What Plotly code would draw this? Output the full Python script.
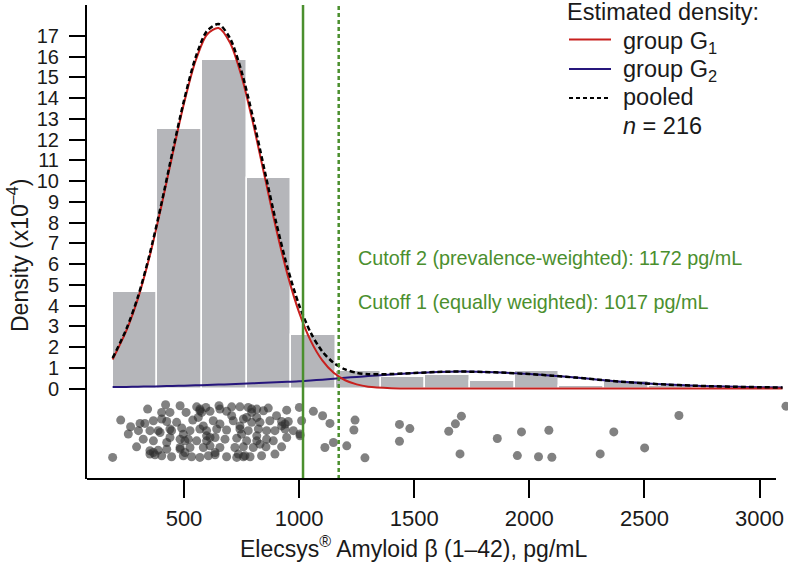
import plotly.graph_objects as go

# ---------------- data ----------------
bin_start = 190
bin_width = 194
hist_density = [4.65, 12.5, 15.84, 10.15, 2.58, 0.84, 0.56, 0.64, 0.35, 0.84,
                0.11, 0.35, 0.12, 0.02, 0.05]

curve_x = [190, 250, 300, 350, 400, 450, 500, 550, 600, 650, 700, 750, 800, 850,
           900, 950, 1000, 1050, 1100, 1150, 1200, 1250, 1300, 1400, 1500, 1600,
           1700, 1800, 1900, 2000, 2100, 2200, 2300, 2400, 2500, 2600, 2700, 2800,
           2900, 3000, 3100]
g1_density = [1.40, 2.80, 4.34, 6.34, 8.71, 11.28, 13.75, 15.79, 17.07, 17.38, 16.67,
              15.05, 12.79, 10.24, 7.72, 5.48, 3.67, 2.31, 1.37, 0.76, 0.40, 0.20, 0.09,
              0.02, 0.0, 0.0, 0.0, 0.0, 0.0, 0.0, 0.0, 0.0, 0.0, 0.0, 0.0, 0.0, 0.0,
              0.0, 0.0, 0.0, 0.0]
g2_density = [0.07, 0.08, 0.09, 0.10, 0.11, 0.125, 0.14, 0.155, 0.17, 0.19, 0.21,
              0.23, 0.25, 0.275, 0.30, 0.325, 0.35, 0.39, 0.43, 0.475, 0.52, 0.56, 0.60,
              0.68, 0.75, 0.80, 0.82, 0.80, 0.76, 0.70, 0.62, 0.53, 0.43, 0.33, 0.25,
              0.19, 0.145, 0.11, 0.085, 0.065, 0.05]
pooled_density = [1.47, 2.88, 4.43, 6.44, 8.82, 11.41, 13.89, 15.95, 17.24, 17.57,
                  16.88, 15.28, 13.04, 10.52, 8.02, 5.81, 4.02, 2.70, 1.80, 1.24, 0.92,
                  0.76, 0.69, 0.70, 0.75, 0.80, 0.82, 0.80, 0.76, 0.70, 0.62, 0.53,
                  0.43, 0.33, 0.25, 0.19, 0.145, 0.11, 0.085, 0.065, 0.05]

cutoffs = [1017, 1172]
cutoff_labels = ["Cutoff 1 (equally weighted): 1017 pg/mL",
                 "Cutoff 2 (prevalence-weighted): 1172 pg/mL"]

strip_x = [420, 483, 555, 595, 652, 707, 743, 779, 816, 866, 946, 1001, 342, 439, 509,
           569, 613, 685, 794, 845, 902, 1062, 1102,
           225, 268, 309, 367, 330, 403, 425, 468, 538, 627, 656, 714, 758, 816, 830,
           873, 924, 953, 1011, 1134, 1243,
           258, 302, 352, 388, 439, 490, 526, 569, 598, 642, 685, 743, 779, 823, 859,
           895, 939, 975, 1004, 1238,
           323, 367, 425, 483, 519, 555, 598, 635, 678, 729, 772, 816, 859, 888, 946, 1004,
           294, 352, 388, 425, 483, 526, 584, 613, 656, 721, 758, 801, 856, 924, 1112,
           1149, 1207,
           190, 374, 403, 446, 497, 533, 569, 606, 635, 685, 729, 758, 787, 837, 895,
           497, 504, 598, 613, 584, 562, 743, 750, 765, 736, 772, 794, 569, 577, 403,
           396, 446, 504, 483, 794, 816, 924, 939, 439, 352, 367, 635, 707, 656, 830,
           1286, 1436, 1481, 1436, 1650, 1679, 1705, 1699, 1861, 1966, 1948, 2040, 2085,
           2098, 2308, 2367, 2501, 2650, 3115]
strip_y = [-0.78, -0.83, -0.88, -0.91, -0.83, -0.88, -0.88, -0.91, -0.99, -0.94, -1.04,
           -0.91, -0.99, -1.15, -1.15, -1.07, -1.10, -1.10, -1.15, -1.07, -1.31, -1.10,
           -1.31,
           -1.52, -1.84, -1.68, -1.55, -1.68, -1.47, -1.59, -1.63, -1.52, -1.55, -1.71,
           -1.55, -1.47, -1.39, -1.63, -1.55, -1.59, -1.59, -1.55, -1.68, -1.52,
           -2.19, -2.03, -2.03, -2.03, -1.95, -1.90, -2.03, -1.95, -2.03, -1.95, -2.00,
           -1.95, -2.03, -1.95, -2.03, -2.03, -1.95, -2.03, -2.19, -2.00,
           -2.44, -2.52, -2.60, -2.44, -2.44, -2.52, -2.52, -2.36, -2.44, -2.39, -2.52,
           -2.52, -2.44, -2.52, -2.36, -2.28,
           -2.81, -3.00, -2.97, -2.92, -2.84, -2.84, -2.84, -2.76, -2.84, -2.84, -2.81,
           -2.84, -2.81, -2.81, -2.84, -2.60, -2.76,
           -3.32, -3.19, -3.24, -3.29, -3.24, -3.29, -3.32, -3.24, -3.19, -3.29, -3.32,
           -3.29, -3.29, -3.24, -3.16,
           -2.20, -2.52, -2.28, -2.36, -1.80, -1.39, -1.80, -2.20, -3.24, -3.16, -1.39,
           -0.99, -0.99, -1.15, -1.15, -2.12, -2.03, -3.08, -2.92, -1.63, -2.28, -1.80,
           -1.71, -2.36, -3.16, -3.08, -3.08, -1.31, -0.99, -2.68,
           -3.34, -1.73, -1.93, -2.54, -2.06, -1.70, -1.33, -3.15, -2.41, -2.09, -3.23,
           -3.29, -2.01, -3.31, -3.15, -2.09, -2.86, -1.30, -0.85]

y_ticks = list(range(0, 18))
x_ticks = [500, 1000, 1500, 2000, 2500, 3000]

# ---------------- style / layout ----------------
W, H = 788, 564
ML, MR, MT, MB = 87, 0, 5, 85
PW, PH = W - ML - MR, H - MT - MB
FONT = "Liberation Sans, Arial, Helvetica, sans-serif"
RED = "#c8201e"
BLUE = "#26167c"
GREEN = "#4b8f2e"
TXT = "#1a1a1a"


def px(xpix):
    return (xpix - ML) / PW


def py(ypix):
    return (H - MB - ypix) / PH


fig = go.Figure()

bar_x = [bin_start + (i + 0.5) * bin_width for i in range(len(hist_density))]
fig.add_trace(go.Bar(x=bar_x, y=hist_density, width=bin_width,
                     marker=dict(color="#b5b6ba", line=dict(color="white", width=1.5)),
                     showlegend=False, hoverinfo="skip"))

fig.add_trace(go.Scatter(x=curve_x, y=g2_density, mode="lines",
                         line=dict(color=BLUE, width=2, shape="spline", smoothing=0.8),
                         showlegend=False))
fig.add_trace(go.Scatter(x=curve_x, y=g1_density, mode="lines",
                         line=dict(color=RED, width=2, shape="spline", smoothing=0.8),
                         showlegend=False))
fig.add_trace(go.Scatter(x=curve_x, y=pooled_density, mode="lines",
                         line=dict(color="black", width=2.5, dash="5px,3px",
                                   shape="spline", smoothing=0.8),
                         showlegend=False))

fig.add_trace(go.Scatter(x=strip_x, y=strip_y, mode="markers",
                         marker=dict(size=9, color="rgba(45,45,45,0.6)", line=dict(width=0)),
                         showlegend=False))

shapes = []
# cutoff lines
shapes.append(dict(type="line", xref="x", yref="paper", x0=cutoffs[0], x1=cutoffs[0],
                   y0=0, y1=1, line=dict(color=GREEN, width=2.5)))
shapes.append(dict(type="line", xref="x", yref="paper", x0=cutoffs[1], x1=cutoffs[1],
                   y0=0, y1=1, line=dict(color=GREEN, width=2.5, dash="4px,3px")))
# x axis line (stops short of the right edge as in the reference)
shapes.append(dict(type="line", xref="paper", yref="paper", x0=0, x1=px(776),
                   y0=0, y1=0, line=dict(color="black", width=2)))
# legend sample lines
shapes.append(dict(type="line", xref="paper", yref="paper", x0=px(569), x1=px(611),
                   y0=py(39.5), y1=py(39.5), line=dict(color=RED, width=2)))
shapes.append(dict(type="line", xref="paper", yref="paper", x0=px(569), x1=px(611),
                   y0=py(69), y1=py(69), line=dict(color=BLUE, width=2)))
shapes.append(dict(type="line", xref="paper", yref="paper", x0=px(569), x1=px(611),
                   y0=py(98), y1=py(98), line=dict(color="black", width=2, dash="4px,3px")))

ann = []


def add_text(text, xpix, ypix, size, color=TXT, xanchor="left", angle=0):
    ann.append(dict(text=text, xref="paper", yref="paper", x=px(xpix), y=py(ypix),
                    xanchor=xanchor, yanchor="middle", showarrow=False, textangle=angle,
                    font=dict(family=FONT, size=size, color=color)))


add_text("Estimated density:", 565, 12, 23.5)
add_text("group G<sub>1</sub>", 621, 42, 23.5)
add_text("group G<sub>2</sub>", 621, 71, 23.5)
add_text("pooled", 621, 97, 23.5)
add_text("<i>n</i> = 216", 621, 126, 23.5)
add_text(cutoff_labels[1], 356, 258, 19.8, color=GREEN)
add_text(cutoff_labels[0], 356, 302, 19.8, color=GREEN)
add_text("Density (x10<sup>–4</sup>)", 18, 256, 23, xanchor="center", angle=-90)
add_text("Elecsys<sup>®</sup> Amyloid β (1–42), pg/mL", 413, 547, 23, xanchor="center")

fig.update_layout(
    width=W, height=H,
    margin=dict(l=ML, r=MR, t=MT, b=MB, pad=0, autoexpand=False),
    paper_bgcolor="white", plot_bgcolor="white",
    bargap=0,
    shapes=shapes, annotations=ann,
    font=dict(family=FONT, color=TXT),
    xaxis=dict(range=[78.6, 78.6 + PW / 0.2302], tickvals=x_ticks,
               ticks="outside", ticklen=18, tickwidth=2, tickcolor="black",
               showline=False, showgrid=False, zeroline=False,
               tickfont=dict(family=FONT, size=22, color=TXT), ticklabelstandoff=2),
    yaxis=dict(range=[-4.36, 18.49], tickvals=y_ticks,
               ticks="outside", ticklen=16, tickwidth=2, tickcolor="black",
               showline=True, linecolor="black", linewidth=2,
               showgrid=False, zeroline=False,
               tickfont=dict(family=FONT, size=20, color=TXT), ticklabelstandoff=6),
)

fig.write_html("out.html", config={"displayModeBar": False},
               post_script="document.body.style.margin='0px';document.body.style.padding='0px';")
